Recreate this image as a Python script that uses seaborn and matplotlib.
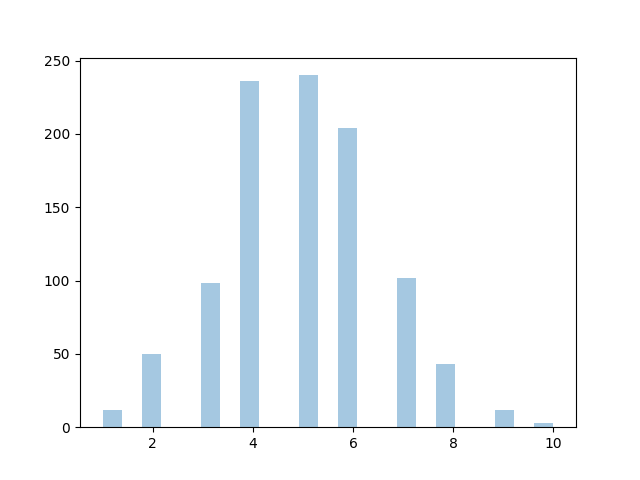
import matplotlib
matplotlib.use("Agg")
import matplotlib.pyplot as plt
import seaborn as sns

# integer values and how often each occurs
values = [1, 2, 3, 4, 5, 6, 7, 8, 9, 10]
counts = [12, 50, 98, 236, 240, 204, 102, 43, 12, 3]

fig, ax = plt.subplots(figsize=(6.4, 4.8), dpi=100)
sns.histplot(x=values, weights=counts, bins=23, binrange=(1, 10),
             color="C0", alpha=0.4, linewidth=0, ax=ax)
ax.set_xlabel("")
ax.set_ylabel("")
ax.set_ylim(0, 252)
fig.savefig("out.png")
